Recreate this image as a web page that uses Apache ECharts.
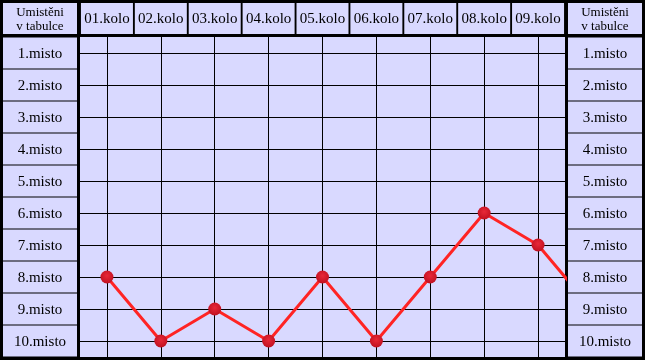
<!DOCTYPE html>
<html>
<head>
<meta charset="utf-8">
<script src="https://cdn.jsdelivr.net/npm/echarts@6/dist/echarts.min.js"></script>
<style>html,body{margin:0;padding:0;background:#000;}#c{width:645px;height:360px;}</style>
</head>
<body>
<div id="c"></div>
<script>
var rounds = ['01.kolo','02.kolo','03.kolo','04.kolo','05.kolo','06.kolo','07.kolo','08.kolo','09.kolo'];
var places = ['1.misto','2.misto','3.misto','4.misto','5.misto','6.misto','7.misto','8.misto','9.misto','10.misto'];
// position after each round (10th value lies beyond the visible area and is clipped)
var positions = [8, 10, 9, 10, 8, 10, 8, 6, 7, 9];
var headerText = 'Umistěni\nv tabulce';

var LAV = '#D9D9FF';
var FONT = 'Liberation Serif';
var chart = echarts.init(document.getElementById('c'), null, {renderer: 'canvas'});

function cornerCell(x) {
  return {
    type: 'group', left: x, top: 3,
    children: [
      {type: 'rect', shape: {x: 0, y: 0, width: 74, height: 31}, style: {fill: LAV}},
      {type: 'text', x: 37, y: 16.5, style: {text: headerText, fill: '#000', font: '13px "' + FONT + '"', align: 'center', verticalAlign: 'middle', lineHeight: 14}}
    ]
  };
}

function yLabel(side) {
  return {
    interval: 0, margin: 3, align: side,
    formatter: '{c|{value}}',
    rich: {c: {fontFamily: FONT, fontSize: 15, color: '#000', backgroundColor: LAV, width: 74, height: 29, lineHeight: 29, align: 'center', padding: [2, 0, 0, 0]}}
  };
}

chart.setOption({
  backgroundColor: '#000',
  animation: false,
  grid: {left: 80, top: 37, width: 485, height: 320, show: true, backgroundColor: LAV, borderWidth: 0, containLabel: false},
  xAxis: {
    type: 'category', position: 'top', data: rounds, boundaryGap: true,
    axisLine: {show: false}, axisTick: {show: false},
    axisLabel: {fontFamily: FONT, fontSize: 15, color: '#000', backgroundColor: LAV, width: 52, height: 29, lineHeight: 29, align: 'center', padding: [2, 0, 0, 0], margin: 3, interval: 0},
    splitLine: {show: true, alignWithLabel: true, interval: 0, lineStyle: {color: '#000', width: 1}}
  },
  yAxis: [{
    type: 'category', data: places, inverse: true, position: 'left', boundaryGap: true,
    axisLine: {show: false}, axisTick: {show: false},
    axisLabel: yLabel('right'),
    splitLine: {show: true, alignWithLabel: true, interval: 0, lineStyle: {color: '#000', width: 1}}
  }, {
    type: 'category', data: places, inverse: true, position: 'right', boundaryGap: true,
    axisLine: {show: false}, axisTick: {show: false},
    axisLabel: yLabel('left'),
    splitLine: {show: false}
  }],
  graphic: [cornerCell(3), cornerCell(568)],
  series: [{
    type: 'line', clip: true,
    data: positions.map(function (p) { return p + '.misto'; }),
    lineStyle: {color: '#FF2424', width: 3},
    symbol: 'circle', symbolSize: 13,
    itemStyle: {color: {type: 'radial', x: 0.5, y: 0.4, r: 0.6, colorStops: [{offset: 0, color: '#E82838'}, {offset: 1, color: '#C01020'}]}},
    z: 5
  }]
});
</script>
</body>
</html>
